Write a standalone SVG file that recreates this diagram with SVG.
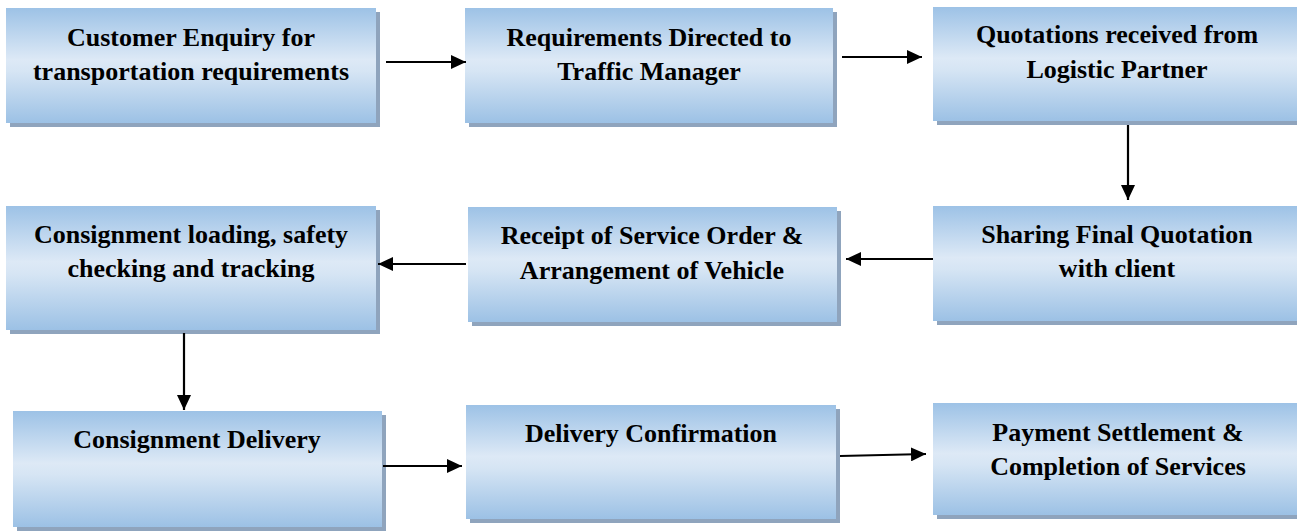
<svg xmlns="http://www.w3.org/2000/svg" width="1297" height="531" viewBox="0 0 1297 531">
<defs>
<linearGradient id="g" x1="0" y1="0" x2="0" y2="1">
<stop offset="0" stop-color="#9dc2e6"/>
<stop offset="0.45" stop-color="#dde9f6"/>
<stop offset="0.55" stop-color="#d6e5f4"/>
<stop offset="1" stop-color="#9cc1e5"/>
</linearGradient>
<marker id="ah" markerUnits="userSpaceOnUse" markerWidth="16" markerHeight="14" refX="15" refY="7" orient="auto">
<path d="M0,0 L15,7 L0,14 Z" fill="#000"/>
</marker>
</defs>
<style>
.sh{fill:#8fa4bd}
.bx{fill:url(#g)}
text{font-family:"Liberation Serif","Times New Roman",serif;font-weight:bold;font-size:26px;fill:#000;text-anchor:middle}
.c{stroke:#000;stroke-width:2.2;fill:none;marker-end:url(#ah)}
</style>
<rect width="1297" height="531" fill="#fff"/>
<g id="n1"><rect class="sh" x="10" y="12" width="370" height="115"/><rect class="bx" x="6" y="8" width="370" height="115"/><text x="191" y="46">Customer Enquiry for</text><text x="191" y="80">transportation requirements</text></g>
<g id="n2"><rect class="sh" x="469" y="12" width="368" height="115"/><rect class="bx" x="465" y="8" width="368" height="115"/><text x="649" y="46">Requirements Directed to</text><text x="649" y="80">Traffic Manager</text></g>
<g id="n3"><rect class="sh" x="937" y="11" width="368" height="114"/><rect class="bx" x="933" y="7" width="368" height="114"/><text x="1117" y="43">Quotations received from</text><text x="1117" y="78">Logistic Partner</text></g>
<g id="n4"><rect class="sh" x="10" y="210" width="370" height="124"/><rect class="bx" x="6" y="206" width="370" height="124"/><text x="191" y="243">Consignment loading, safety</text><text x="191" y="277">checking and tracking</text></g>
<g id="n5"><rect class="sh" x="472" y="211" width="369" height="115"/><rect class="bx" x="468" y="207" width="369" height="115"/><text x="652" y="244">Receipt of Service Order &amp;</text><text x="652" y="279">Arrangement of Vehicle</text></g>
<g id="n6"><rect class="sh" x="937" y="210" width="368" height="115"/><rect class="bx" x="933" y="206" width="368" height="115"/><text x="1117" y="243">Sharing Final Quotation</text><text x="1117" y="277">with client</text></g>
<g id="n7"><rect class="sh" x="17" y="415" width="369" height="116"/><rect class="bx" x="13" y="411" width="369" height="116"/><text x="197" y="448">Consignment Delivery</text></g>
<g id="n8"><rect class="sh" x="470" y="409" width="370" height="114"/><rect class="bx" x="466" y="405" width="370" height="114"/><text x="651" y="442">Delivery Confirmation</text></g>
<g id="n9"><rect class="sh" x="937" y="407" width="368" height="112"/><rect class="bx" x="933" y="403" width="368" height="112"/><text x="1118" y="441">Payment Settlement &amp;</text><text x="1118" y="475">Completion of Services</text></g>
<g id="connectors">
<line class="c" x1="386" y1="62" x2="466" y2="62"/>
<line class="c" x1="842" y1="57" x2="922" y2="57"/>
<line class="c" x1="1128" y1="125" x2="1128" y2="200"/>
<line class="c" x1="933" y1="259" x2="846" y2="259"/>
<line class="c" x1="466" y1="264" x2="378" y2="264"/>
<line class="c" x1="184" y1="333" x2="184" y2="410"/>
<line class="c" x1="383" y1="466" x2="462" y2="466"/>
<line class="c" x1="840" y1="456" x2="926" y2="454"/>
</g>
</svg>
